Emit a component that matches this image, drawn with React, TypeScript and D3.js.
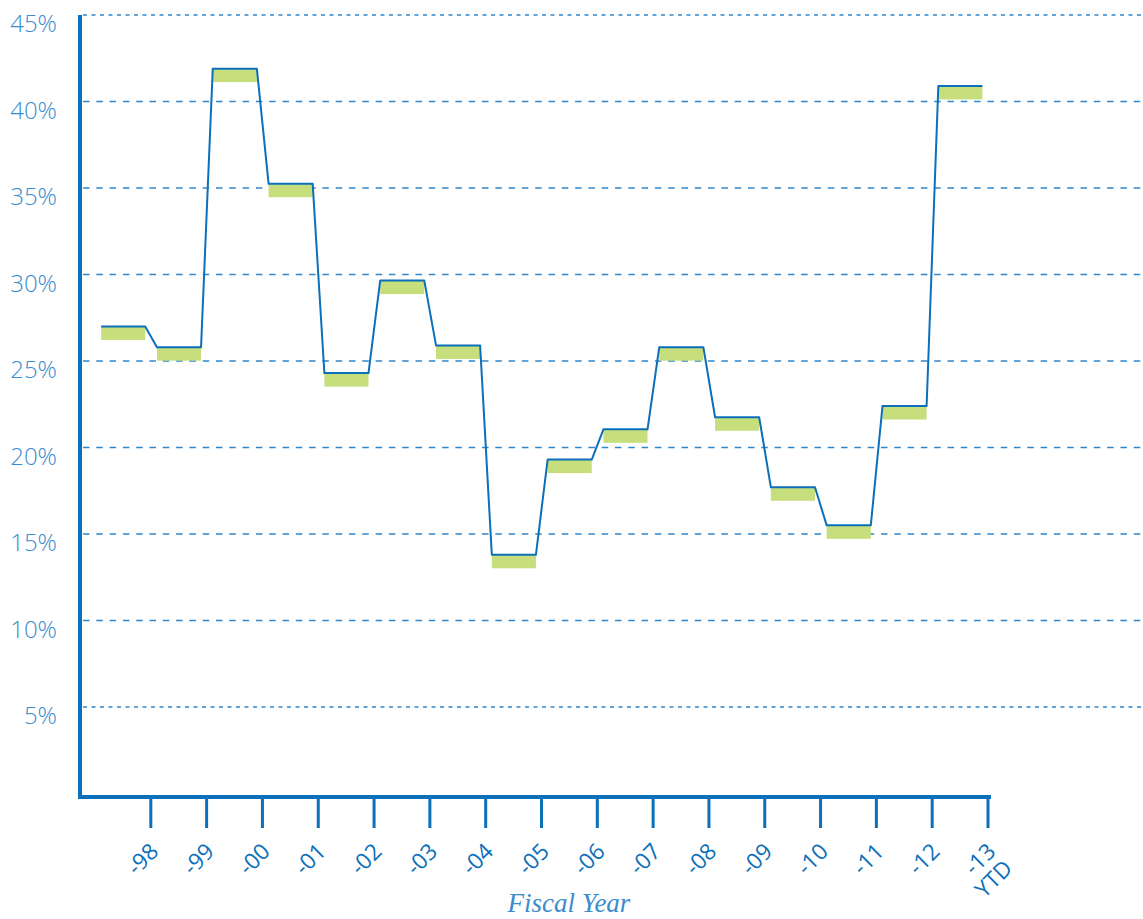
import React, { useEffect, useRef } from "react";
import * as d3 from "d3";

// fiscal years (tick labels) and the rate (%)
const years = ["-98", "-99", "-00", "-01", "-02", "-03", "-04", "-05", "-06", "-07", "-08", "-09", "-10", "-11", "-12", "-13"];
const rates = [27.0, 25.8, 41.9, 35.25, 24.3, 29.65, 25.9, 13.8, 19.3, 21.05, 25.8, 21.75, 17.7, 15.5, 22.4, 40.9];
const yTicks = [5, 10, 15, 20, 25, 30, 35, 40, 45];

const W = 1143;
const H = 919;

const App = () => {
	const ref = useRef<SVGSVGElement>(null);

	useEffect(() => {
		document.body.style.margin = "0";
		const svg = d3.select(ref.current);
		svg.selectAll("*").remove();

		const blue = "#0b6fba";
		const lightBlue = "#3b8ccc";
		const green = "#c6de7c";

		const y = d3.scaleLinear().domain([0, 45]).range([793.5, 15]);
		const x = d3.scaleBand<string>().domain(years).range([95, 988]);
		const bw = x.bandwidth();
		const segStart = (d: string) => (x(d) as number) + bw * 0.11;
		const segEnd = (d: string) => (x(d) as number) + bw * 0.9;

		// grid lines
		svg.append("g")
			.selectAll("line")
			.data(yTicks)
			.enter()
			.append("line")
			.attr("x1", 83)
			.attr("x2", W)
			.attr("y1", (d) => y(d))
			.attr("y2", (d) => y(d))
			.attr("stroke", "#2f86cc")
			.attr("stroke-width", 1.4)
			.attr("stroke-dasharray", (d) => (d === 45 || d === 5 ? "4 4.5" : "6.5 6.8"));

		// y tick labels
		svg.append("g")
			.selectAll("text")
			.data(yTicks)
			.enter()
			.append("text")
			.attr("x", 57)
			.attr("y", (d) => y(d) + 17)
			.attr("text-anchor", "end")
			.attr("font-family", "'Open Sans', sans-serif")
			.attr("font-weight", 300)
			.attr("font-size", 24)
			.attr("fill", lightBlue)
			.text((d) => d + "%");

		// green blocks under each level
		svg.append("g")
			.selectAll("rect")
			.data(years)
			.enter()
			.append("rect")
			.attr("x", (d) => segStart(d))
			.attr("width", (d) => segEnd(d) - segStart(d))
			.attr("y", (d, i) => y(rates[i]))
			.attr("height", 13.5)
			.attr("fill", green);

		// step line
		const pts: [number, number][] = [];
		years.forEach((d, i) => {
			pts.push([segStart(d), y(rates[i])]);
			pts.push([segEnd(d), y(rates[i])]);
		});
		svg.append("path")
			.datum(pts)
			.attr("d", d3.line())
			.attr("fill", "none")
			.attr("stroke", blue)
			.attr("stroke-width", 2)
			.attr("stroke-linejoin", "round");

		// axes
		svg.append("line")
			.attr("x1", 80).attr("x2", 80)
			.attr("y1", 15).attr("y2", 799)
			.attr("stroke", blue).attr("stroke-width", 4);
		svg.append("line")
			.attr("x1", 78).attr("x2", 991)
			.attr("y1", 797).attr("y2", 797)
			.attr("stroke", blue).attr("stroke-width", 4);

		const tickX = (d: string) => (x(d) as number) + bw;
		svg.append("g")
			.selectAll("line")
			.data(years)
			.enter()
			.append("line")
			.attr("x1", (d) => tickX(d))
			.attr("x2", (d) => tickX(d))
			.attr("y1", 797)
			.attr("y2", 828)
			.attr("stroke", blue)
			.attr("stroke-width", 3);

		const labels = svg.append("g")
			.selectAll("text")
			.data(years)
			.enter()
			.append("text")
			.attr("transform", (d) => `translate(${tickX(d) + 9},853) rotate(-45)`)
			.attr("text-anchor", "end")
			.attr("font-family", "'Open Sans', sans-serif")
			.attr("font-size", 22.5)
			.attr("fill", blue);
		labels.append("tspan").attr("x", 0).text((d) => d);
		labels.filter((d) => d === "-13")
			.append("tspan")
			.attr("x", 0)
			.attr("dy", "1.05em")
			.text("YTD");

		svg.append("text")
			.attr("x", 569)
			.attr("y", 912)
			.attr("text-anchor", "middle")
			.attr("font-family", "'Liberation Serif', 'DejaVu Serif', serif")
			.attr("font-style", "italic")
			.attr("font-size", 27)
			.attr("fill", lightBlue)
			.text("Fiscal Year");
	}, []);

	return <svg ref={ref} width={W} height={H} style={{ display: "block" }}></svg>;
};

export default App;
